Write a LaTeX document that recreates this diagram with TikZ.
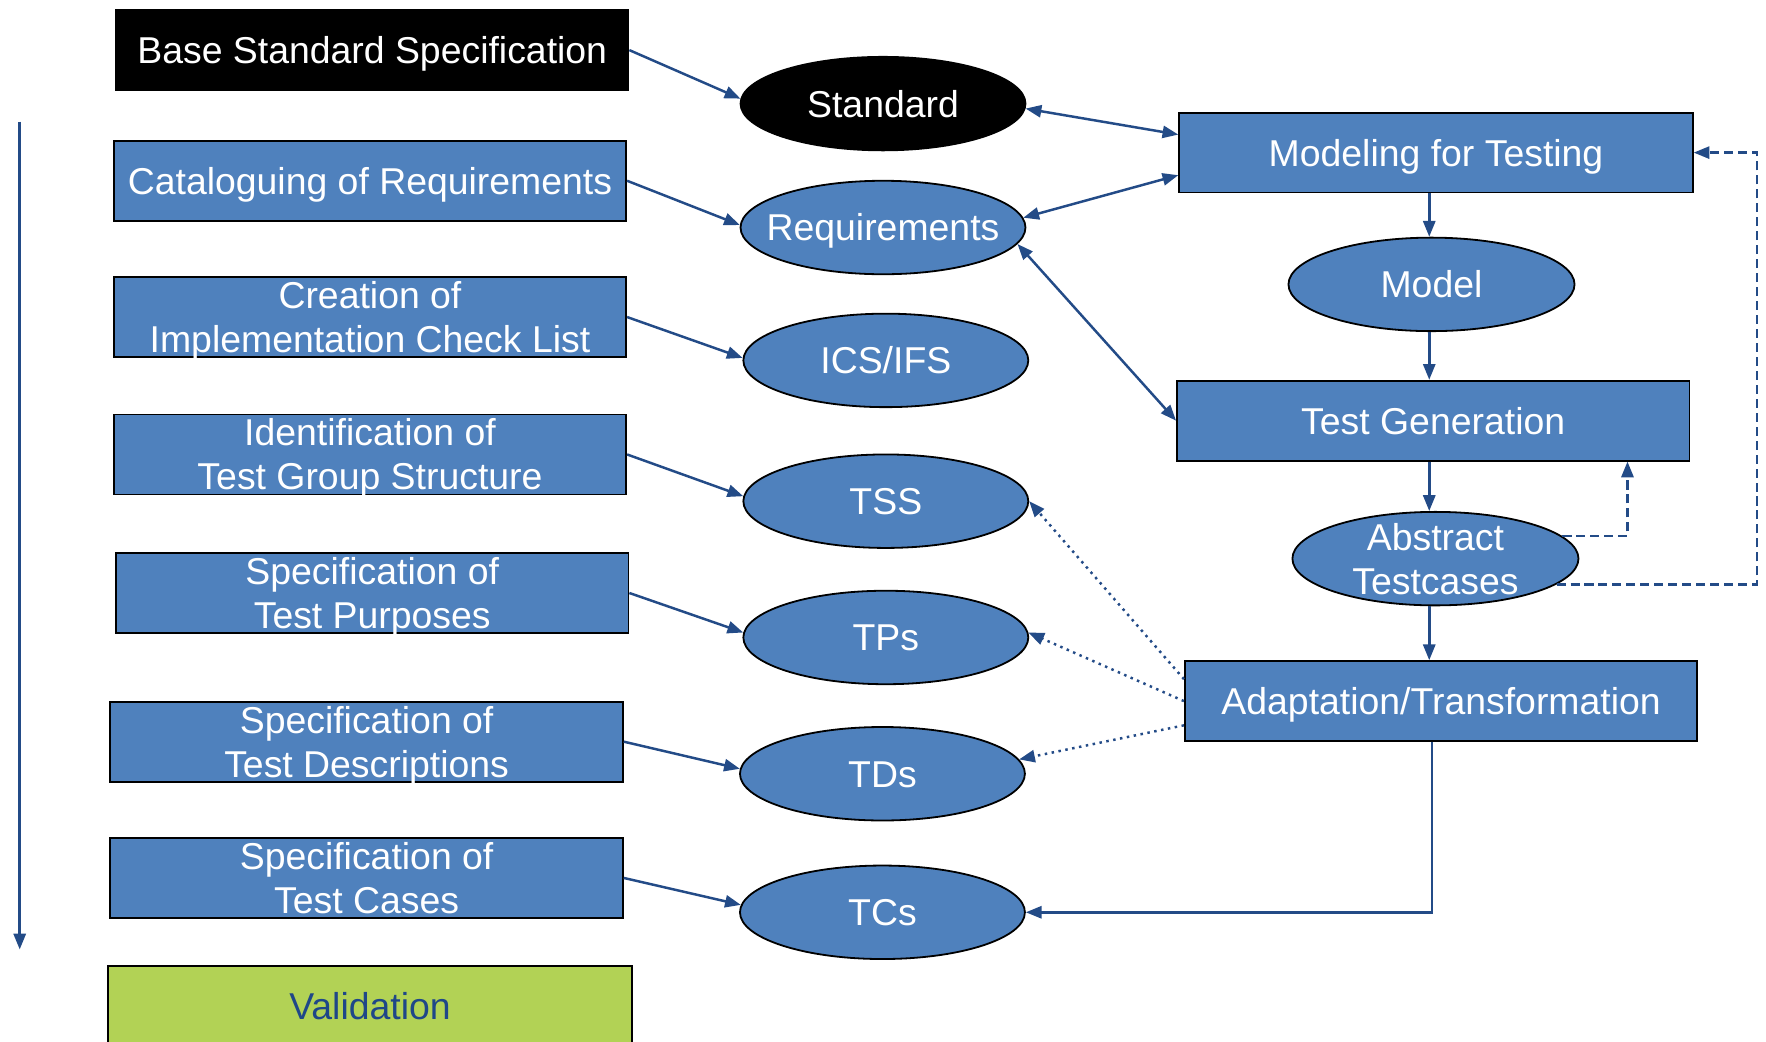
\documentclass[tikz,border=0pt]{standalone}
\usepackage{fontspec}
\setmainfont{Liberation Sans}
\usetikzlibrary{arrows.meta,shapes.geometric,calc}
\definecolor{fillblue}{HTML}{4F81BD}
\definecolor{arrowblue}{HTML}{234B87}
\definecolor{valgreen}{HTML}{B2D255}
\definecolor{valtext}{HTML}{1F4788}
\begin{document}
\begin{tikzpicture}[x=0.5pt,y=-0.5pt,
  box/.style={rectangle,draw=black,line width=0.8pt,fill=fillblue,minimum width=227.5pt,minimum height=35.5pt,inner sep=0pt},
  ell/.style={ellipse,draw=black,line width=0.8pt,fill=fillblue,minimum width=126.5pt,minimum height=41.5pt,inner sep=0pt},
  lbl/.style={text=white,font=\fontsize{16.6}{19.5}\selectfont,inner sep=0pt,text height=11.9pt,text depth=0pt},
  up/.style={yshift=9.75pt},
  down/.style={yshift=-9.75pt},
  tip/.style={Triangle[length=7pt,width=5.4pt]},
  conn/.style={draw=arrowblue,line width=1.1pt,-{Triangle[length=7pt,width=5.4pt]}},
  both/.style={conn,{Triangle[length=7pt,width=5.4pt]}-{Triangle[length=7pt,width=5.4pt]}},
  dashline/.style={conn,dash pattern=on 4pt off 2.2pt},
  dotline/.style={conn,dotted},
]
\useasboundingbox (0,0) rectangle (1568,925);
% left column boxes
\node[box,fill=black] (b1) at (330.5,44.5) {};
\node[box] (b2) at (328.5,160.5) {};
\node[box] (b3) at (328.5,281.5) {};
\node[box] (b4) at (328.5,403.5) {};
\node[box] (b5) at (330.5,526.5) {};
\node[box] (b6) at (325.5,658.5) {};
\node[box] (b7) at (325.5,779.5) {};
\node[box,fill=valgreen,minimum width=232.5pt] (val) at (328.5,893.5) {};
\node[lbl] at (b1) {Base Standard Specification};
\node[lbl] at (b2) {Cataloguing of Requirements};
\node[lbl,up] at (b3) {Creation of};
\node[lbl,down] at (b3) {Implementation Check List};
\node[lbl,up] at (b4) {Identification of};
\node[lbl,down] at (b4) {Test Group Structure};
\node[lbl,up] at (b5) {Specification of};
\node[lbl,down] at (b5) {Test Purposes};
\node[lbl,up] at (b6) {Specification of};
\node[lbl,down] at (b6) {Test Descriptions};
\node[lbl,up] at (b7) {Specification of};
\node[lbl,down] at (b7) {Test Cases};
\node[lbl,text=valtext] at (val) {Validation};
% middle column ellipses
\node[ell,fill=black] (std) at (784,92) {};
\node[ell] (req) at (784,202) {};
\node[ell] (ics) at (786.5,320) {};
\node[ell] (tss) at (786.5,445) {};
\node[ell] (tps) at (786.5,566) {};
\node[ell] (tds) at (783.5,687) {};
\node[ell] (tcs) at (783.5,810) {};
\node[lbl] at (std) {Standard};
\node[lbl] at (req) {Requirements};
\node[lbl] at (ics) {ICS/IFS};
\node[lbl] at (tss) {TSS};
\node[lbl] at (tps) {TPs};
\node[lbl] at (tds) {TDs};
\node[lbl] at (tcs) {TCs};
% right column
\node[box,minimum width=228pt] (mod) at (1275,135.5) {};
\node[ell,minimum width=127pt] (model) at (1271,252.5) {};
\node[box] (tg) at (1272.5,373.5) {};
\node[ell,minimum width=127pt] (abs) at (1274.5,496) {};
\node[box] (adapt) at (1279.5,622.5) {};
\node[lbl] at (mod) {Modeling for Testing};
\node[lbl] at (model) {Model};
\node[lbl] at (tg) {Test Generation};
\node[lbl,up] at (abs) {Abstract};
\node[lbl,down] at (abs) {Testcases};
\node[lbl] at (adapt) {Adaptation/Transformation};
% helper coordinates
\coordinate (lt) at (17.5,108);
\coordinate (lb) at (17.5,843);
\coordinate (colx) at (1269,0);
\coordinate (colx2) at (1271.5,0);
\coordinate (dA) at (1445,0);
\coordinate (dB) at (1560,0);
% left timeline arrow
\draw[conn] (lt) -- (lb);
% left boxes to ellipses
\draw[conn] (b1.east) -- (std.178);
\draw[conn] (b2.east) -- (req.179);
\draw[conn] (b3.east) -- (ics.179);
\draw[conn] (b4.east) -- (tss.178);
\draw[conn] (b5.east) -- (tps.178);
\draw[conn] (b6.east) -- (tds.178);
\draw[conn] (b7.east) -- (tcs.177);
% double arrows
\draw[both] (std.358) -- (mod.176);
\draw[both] (req.4) -- (mod.185);
\draw[both] (req.353) -- (tg.west);
% right column flow
\draw[conn] (mod.south -| colx) -- (model.north -| colx);
\draw[conn] (model.south -| colx) -- (tg.north -| colx);
\draw[conn] (tg.south -| colx) -- (abs.north -| colx);
\draw[conn] (abs.south -| colx) -- (adapt.north -| colx);
\draw[conn] (adapt.south -| colx2) |- (tcs.east);
% dashed feedback
\draw[dashline] (abs.10) -| (tg.south -| dA);
\draw[dashline] (abs.348) -| (mod.east -| dB) -- (mod.east);
% dotted
\draw[dotline] ([yshift=9.75pt]adapt.west) -- (tss.east);
\draw[dotline] (adapt.west) -- (tps.2);
\draw[dotline] ([yshift=-10.75pt]adapt.west) -- (tds.6);
\end{tikzpicture}
\end{document}
